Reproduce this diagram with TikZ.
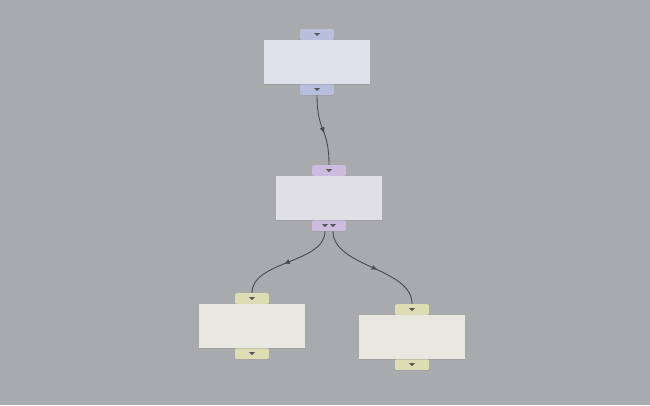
\documentclass[tikz,border=0pt]{standalone}
\usetikzlibrary{positioning,calc,arrows.meta,decorations.markings,shadows}

\definecolor{bgcol}{HTML}{A9AAAD}
\definecolor{blubox}{HTML}{DFE1EA}
\definecolor{blutab}{HTML}{B7BFDC}
\definecolor{purbox}{HTML}{E0DFE4}
\definecolor{purtab}{HTML}{CDBBE0}
\definecolor{yelbox}{HTML}{E8E8E0}
\definecolor{yeltab}{HTML}{DCDCB5}
\definecolor{linkcol}{HTML}{4A4A4E}
\definecolor{markcol}{HTML}{55565A}

\begin{document}
\begin{tikzpicture}[x=1pt,y=-1pt,
  box/.style={minimum width=106pt,minimum height=44pt,inner sep=0pt,
    drop shadow={shadow xshift=0.4pt,shadow yshift=-0.8pt,opacity=0.25}},
  tab/.style={minimum width=34pt,minimum height=11pt,inner sep=0pt,
    rounded corners=1.5pt,
    drop shadow={shadow xshift=0.4pt,shadow yshift=-0.8pt,opacity=0.25}},
  link/.style={draw=linkcol,line width=0.9pt,
    postaction={decorate},
    decoration={markings,mark=at position 0.55 with
      {\arrow[linkcol]{Latex[length=6pt,width=5pt]}}}},
  tabmark/.pic={\fill[markcol] (-3,-1.5) -- (3,-1.5) -- (0,1.5) -- cycle;}]
  % background
  \fill[bgcol] (0,0) rectangle (650,405);
  \useasboundingbox (0,0) rectangle (650,405);

  % tabs first, boxes on top
  \coordinate (topC) at (317,62);
  \coordinate (midC) at (329,198);
  \coordinate (lfC) at (252,326);
  \coordinate (rtC) at (412,337);

  \node[tab,fill=blutab] (topT) at ($(topC)+(0,-27.5)$) {};
  \node[tab,fill=blutab] (topB) at ($(topC)+(0,27.5)$) {};
  \node[tab,fill=purtab] (midT) at ($(midC)+(0,-27.5)$) {};
  \node[tab,fill=purtab] (midB) at ($(midC)+(0,27.5)$) {};
  \node[tab,fill=yeltab] (lfT) at ($(lfC)+(0,-27.5)$) {};
  \node[tab,fill=yeltab] (lfB) at ($(lfC)+(0,27.5)$) {};
  \node[tab,fill=yeltab] (rtT) at ($(rtC)+(0,-27.5)$) {};
  \node[tab,fill=yeltab] (rtB) at ($(rtC)+(0,27.5)$) {};

  \node[box,fill=blubox] (top) at (topC) {};
  \node[box,fill=purbox] (mid) at (midC) {};
  \node[box,fill=yelbox] (lf) at (lfC) {};
  \node[box,fill=yelbox] (rt) at (rtC) {};

  % markers in the tabs
  \pic at (topT) {tabmark};
  \pic at (topB) {tabmark};
  \pic at (midT) {tabmark};
  \pic at ([xshift=-4pt]midB.center) {tabmark};
  \pic at ([xshift=4pt]midB.center) {tabmark};
  \pic at (lfT) {tabmark};
  \pic at (lfB) {tabmark};
  \pic at (rtT) {tabmark};
  \pic at (rtB) {tabmark};

  % connectors
  \draw[link] (topB.south) .. controls +(0,38) and +(0,-38) .. (midT.north);
  \draw[link] ([xshift=-4pt]midB.south) .. controls +(0,32) and +(0,-32) .. (lfT.north);
  \draw[link] ([xshift=4pt]midB.south) .. controls +(0,36) and +(0,-36) .. (rtT.north);
\end{tikzpicture}
\end{document}
